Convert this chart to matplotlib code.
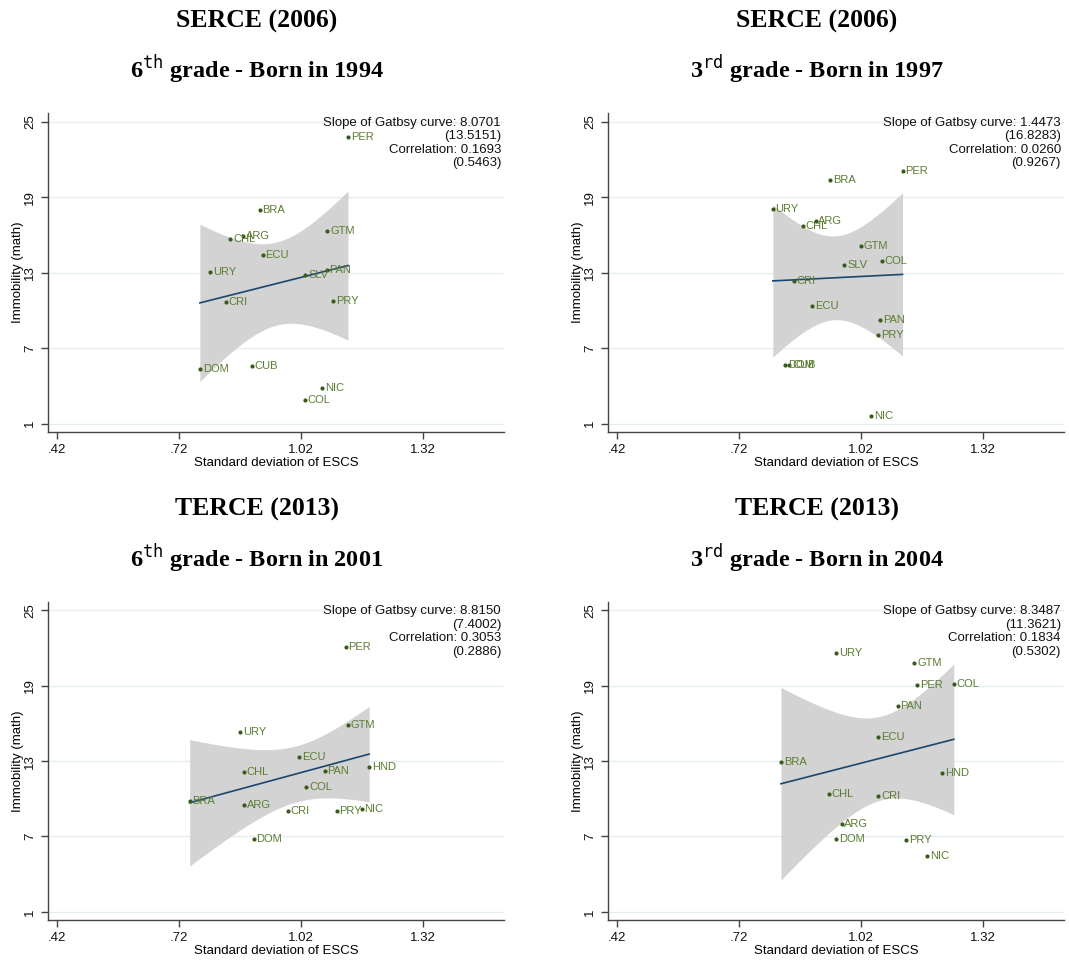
import numpy as np
import matplotlib
matplotlib.use('Agg')
import matplotlib.pyplot as plt

plt.rcParams['font.family'] = ['Liberation Sans', 'DejaVu Sans']
plt.rcParams['mathtext.fontset'] = 'dejavuserif'

# SERCE 2006 - 6th grade
c1 = ['PER', 'BRA', 'GTM', 'ARG', 'CHL', 'ECU', 'URY', 'PAN', 'SLV', 'CRI', 'PRY', 'DOM', 'CUB', 'NIC', 'COL']
x1 = [1.136, 0.919, 1.085, 0.879, 0.847, 0.926, 0.797, 1.084, 1.031, 0.836, 1.099, 0.772, 0.899, 1.072, 1.030]
y1 = [23.81, 17.97, 16.33, 15.88, 15.64, 14.39, 13.07, 13.23, 12.78, 10.63, 10.73, 5.30, 5.59, 3.79, 2.91]

# SERCE 2006 - 3rd grade
c2 = ['PER', 'BRA', 'URY', 'ARG', 'CHL', 'GTM', 'COL', 'SLV', 'CRI', 'ECU', 'PAN', 'PRY', 'DOM', 'CUB', 'NIC']
x2 = [1.123, 0.945, 0.804, 0.909, 0.878, 1.020, 1.072, 0.980, 0.855, 0.900, 1.068, 1.063, 0.834, 0.845, 1.046]
y2 = [21.10, 20.41, 18.05, 17.10, 16.73, 15.14, 13.94, 13.60, 12.30, 10.36, 9.22, 8.08, 5.62, 5.62, 1.61]

# TERCE 2013 - 6th grade
c3 = ['PER', 'GTM', 'URY', 'ECU', 'HND', 'CHL', 'PAN', 'COL', 'BRA', 'ARG', 'CRI', 'PRY', 'NIC', 'DOM']
x3 = [1.130, 1.136, 0.871, 1.016, 1.188, 0.880, 1.079, 1.034, 0.747, 0.880, 0.988, 1.108, 1.170, 0.904]
y3 = [22.12, 15.90, 15.29, 13.30, 12.54, 12.17, 12.19, 10.95, 9.86, 9.49, 9.02, 9.00, 9.20, 6.82]

# TERCE 2013 - 3rd grade
c4 = ['URY', 'GTM', 'PER', 'COL', 'PAN', 'ECU', 'BRA', 'HND', 'CHL', 'CRI', 'ARG', 'DOM', 'PRY', 'NIC']
x4 = [0.959, 1.152, 1.159, 1.249, 1.111, 1.063, 0.824, 1.221, 0.941, 1.063, 0.973, 0.959, 1.132, 1.183]
y4 = [21.61, 20.79, 19.10, 19.18, 17.38, 14.94, 12.91, 12.06, 10.39, 10.23, 8.01, 6.79, 6.69, 5.42]

# slope (se), correlation (p)
stats1 = ['8.0701', '13.5151', '0.1693', '0.5463']
stats2 = ['1.4473', '16.8283', '0.0260', '0.9267']
stats3 = ['8.8150', '7.4002', '0.3053', '0.2886']
stats4 = ['8.3487', '11.3621', '0.1834', '0.5302']

titles1 = ['SERCE (2006)', 'SERCE (2006)', 'TERCE (2013)', 'TERCE (2013)']
titles2 = [r'6$^{\mathtt{th}}$ grade - Born in 1994', r'3$^{\mathtt{rd}}$ grade - Born in 1997',
           r'6$^{\mathtt{th}}$ grade - Born in 2001', r'3$^{\mathtt{rd}}$ grade - Born in 2004']

xticks = [0.42, 0.72, 1.02, 1.32]
xticklabels = ['.42', '.72', '1.02', '1.32']
yticks = [1, 7, 13, 19, 25]

# t critical values (95%), df = n - 2
tcrit = {12: 2.179, 13: 2.160}

fig = plt.figure(figsize=(10.69, 9.6), dpi=100)

positions = [[0.0446, 0.5503, 0.4271, 0.332], [0.5685, 0.5503, 0.4268, 0.332],
             [0.0446, 0.0417, 0.4271, 0.3316], [0.5685, 0.0417, 0.4268, 0.3316]]
title_x = [0.2404, 0.7643, 0.2404, 0.7643]
title_y = [(0.978, 0.929), (0.978, 0.929), (0.469, 0.419), (0.469, 0.419)]

panels = [(c1, x1, y1, stats1), (c2, x2, y2, stats2), (c3, x3, y3, stats3), (c4, x4, y4, stats4)]

for i, (cc, xx, yy, st) in enumerate(panels):
    ax = fig.add_axes(positions[i])
    xx = np.array(xx)
    yy = np.array(yy)
    n = len(xx)

    # linear fit with 95% CI (like lfitci)
    b, a = np.polyfit(xx, yy, 1)
    resid = yy - (a + b * xx)
    s = np.sqrt(np.sum(resid ** 2) / (n - 2))
    sxx = np.sum((xx - xx.mean()) ** 2)
    xg = np.linspace(xx.min(), xx.max(), 100)
    yg = a + b * xg
    se = s * np.sqrt(1 / n + (xg - xx.mean()) ** 2 / sxx)
    t = tcrit[n - 2]
    ax.fill_between(xg, yg - t * se, yg + t * se, color='#d3d3d3', lw=0, zorder=1)
    ax.plot(xg, yg, color='#1a476f', lw=1.2, zorder=2)

    ax.scatter(xx, yy, s=9, color='#3b5a1a', zorder=3, linewidths=0)
    for name, px, py in zip(cc, xx, yy):
        ax.annotate(name, (px, py), xytext=(2, 0), textcoords='offset points',
                    va='center', ha='left', fontsize=8, color='#5b7d32', zorder=4)

    ax.text(0.993, 0.988,
            'Slope of Gatbsy curve: ' + st[0] + '\n(' + st[1] + ')\nCorrelation: ' + st[2] + '\n(' + st[3] + ')',
            transform=ax.transAxes, ha='right', va='top', fontsize=9.5, linespacing=1.15, color='#111111')

    ax.set_xlim(0.398, 1.52)
    ax.set_ylim(0.35, 25.7)
    ax.set_xticks(xticks)
    ax.set_xticklabels(xticklabels, fontsize=9.5)
    ax.set_yticks(yticks)
    ax.set_yticklabels([str(v) for v in yticks], fontsize=9.5, rotation=90, va='center')
    ax.grid(axis='y', color='#e4edf0', lw=1, zorder=0)
    ax.set_axisbelow(True)
    for sp in ['top', 'right']:
        ax.spines[sp].set_visible(False)
    for sp in ['left', 'bottom']:
        ax.spines[sp].set_color('#444444')
        ax.spines[sp].set_linewidth(1.0)
    ax.tick_params(colors='#444444', labelcolor='#111111', length=5, width=1)
    ax.set_xlabel('Standard deviation of ESCS', fontsize=9.5, labelpad=1)
    ax.set_ylabel('Immobility (math)', fontsize=9.5, labelpad=0)

    fig.text(title_x[i], title_y[i][0], titles1[i], ha='center', va='center',
             fontsize=18.5, fontweight='bold', family=['Liberation Serif', 'DejaVu Serif'])
    fig.text(title_x[i], title_y[i][1], titles2[i], ha='center', va='center',
             fontsize=17.5, fontweight='bold', family=['Liberation Serif', 'DejaVu Serif'])

fig.savefig('out.png', dpi=100)
